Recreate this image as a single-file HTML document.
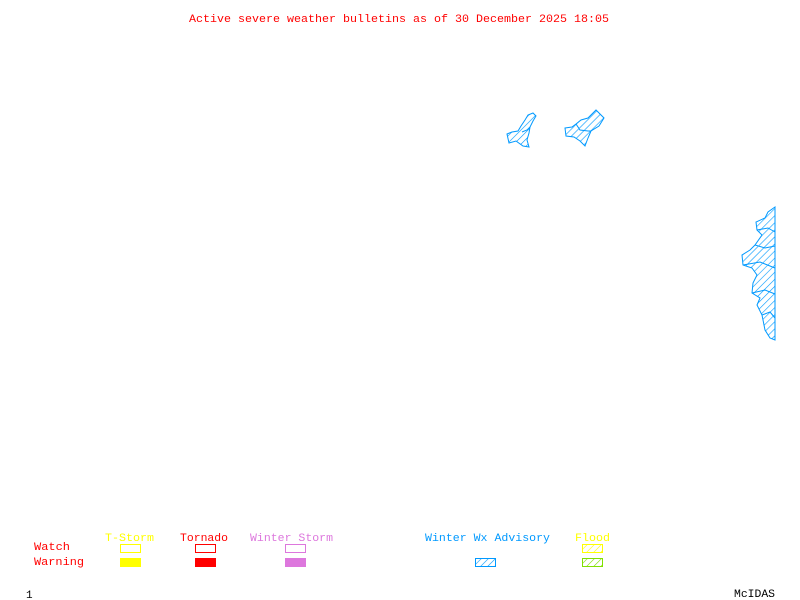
<!DOCTYPE html>
<html><head><style>html,body{margin:0;padding:0;background:#fff}svg{display:block}</style></head>
<body>
<svg width="800" height="600" xmlns="http://www.w3.org/2000/svg" font-family="Liberation Mono, monospace" font-size="11">
<defs>
<pattern id="hb" width="5" height="5" patternUnits="userSpaceOnUse" patternTransform="rotate(45)"><line x1="0" y1="0" x2="0" y2="5" stroke="#0099ff" stroke-width="1.2"/></pattern>
<pattern id="hy" width="5" height="5" patternUnits="userSpaceOnUse" patternTransform="rotate(45)"><line x1="0" y1="0" x2="0" y2="5" stroke="#ffff00" stroke-width="1.2"/></pattern>
<pattern id="hg" width="5" height="5" patternUnits="userSpaceOnUse" patternTransform="rotate(45)"><line x1="0" y1="0" x2="0" y2="5" stroke="#80e000" stroke-width="1.2"/></pattern>
</defs>
<text x="189" y="22" fill="#ff0000" textLength="420" lengthAdjust="spacingAndGlyphs">Active severe weather bulletins as of 30 December 2025 18:05</text>

<g fill="url(#hb)" stroke="#0099ff" stroke-width="1">
<polygon points="507,134 512,132 518,131 521,126 525,120 528,115 533,113 536,116 533,121 530,127 529,133 527,140 529,147 523,146 516,141 509,143"/>
<polygon points="565,128 572,127 576,124 581,120 588,118 596,110 604,118 599,126 591,131 588,138 585,146 580,141 574,137 566,136"/>
<polyline points="522,132 527,130 530,127" fill="none"/>
<polyline points="576,124 580,130 588,131 591,131" fill="none"/>
<polygon points="775,207 768,212 765,218 756,222 757,230 762,235 755,245 750,250 742,255 743,265 752,268 757,275 753,283 752,293 760,298 757,305 762,315 765,330 770,338 775,340"/>
<polyline points="757,230 768,228 775,232" fill="none"/>
<polyline points="755,245 765,248 775,246" fill="none"/>
<polyline points="743,265 760,262 775,268" fill="none"/>
<polyline points="752,293 765,290 775,294" fill="none"/>
<polyline points="762,315 770,312 775,318" fill="none"/>
</g>

<text x="34" y="550" fill="#ff0000" textLength="36" lengthAdjust="spacingAndGlyphs">Watch</text>
<text x="34" y="565" fill="#ff0000" textLength="50" lengthAdjust="spacingAndGlyphs">Warning</text>
<text x="105" y="541" fill="#ffff00" textLength="49" lengthAdjust="spacingAndGlyphs">T-Storm</text>
<text x="180" y="541" fill="#ff0000" textLength="48" lengthAdjust="spacingAndGlyphs">Tornado</text>
<text x="250" y="541" fill="#dd77dd" textLength="83" lengthAdjust="spacingAndGlyphs">Winter Storm</text>
<text x="425" y="541" fill="#0099ff" textLength="125" lengthAdjust="spacingAndGlyphs">Winter Wx Advisory</text>
<text x="575" y="541" fill="#ffff00" textLength="35" lengthAdjust="spacingAndGlyphs">Flood</text>

<rect x="120.5" y="544.5" width="20" height="8" fill="none" stroke="#ffff00"/>
<rect x="120" y="558" width="21" height="9" fill="#ffff00"/>
<rect x="195.5" y="544.5" width="20" height="8" fill="none" stroke="#ff0000"/>
<rect x="195" y="558" width="21" height="9" fill="#ff0000"/>
<rect x="285.5" y="544.5" width="20" height="8" fill="none" stroke="#dd77dd"/>
<rect x="285" y="558" width="21" height="9" fill="#dd77dd"/>
<rect x="475.5" y="558.5" width="20" height="8" fill="url(#hb)" stroke="#0099ff"/>
<rect x="582.5" y="544.5" width="20" height="8" fill="url(#hy)" stroke="#ffff00"/>
<rect x="582.5" y="558.5" width="20" height="8" fill="url(#hg)" stroke="#80e000"/>

<text x="26" y="598" fill="#000">1</text>
<text x="734" y="597" fill="#000" textLength="41" lengthAdjust="spacingAndGlyphs">McIDAS</text>
</svg>
</body></html>
